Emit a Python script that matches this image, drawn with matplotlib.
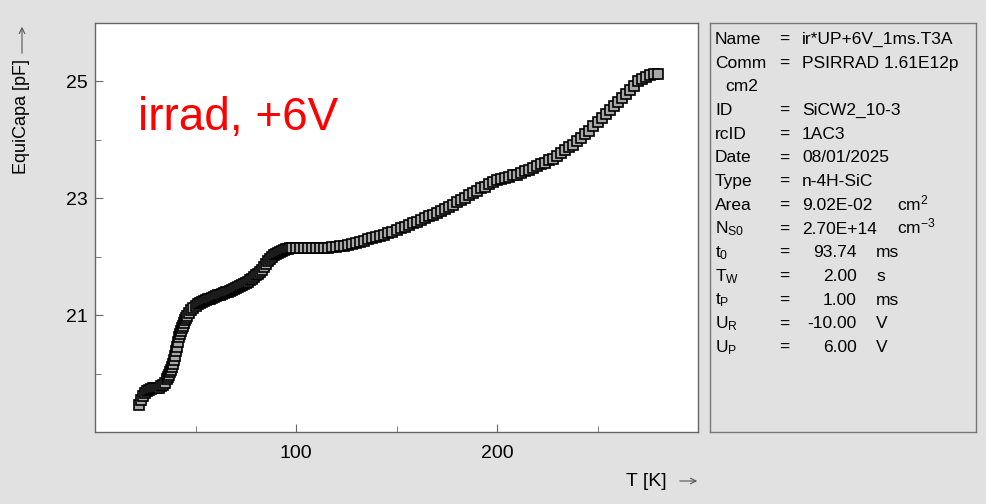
import matplotlib
matplotlib.use("Agg")
import matplotlib.pyplot as plt

plt.rcParams['font.family'] = ['Liberation Sans', 'DejaVu Sans']
plt.rcParams['mathtext.default'] = 'regular'

# data (denser where the curve is steep)
temp_K = [22, 23, 24, 25, 26, 27, 28, 29, 30, 31, 32, 33, 34, 35, 36, 36.5, 37, 37.5,
          38, 38.5, 39, 39.5, 40, 40.5, 41, 41.5, 42, 42.5, 43, 43.5, 44, 44.5, 45, 45.5,
          46, 47, 48, 49, 50, 51, 52, 53, 54, 55, 56, 57, 58, 59, 60, 61, 62, 63, 64, 65,
          66, 67, 68, 69, 70, 71, 72, 73, 74, 75, 76, 77, 78, 79, 80, 81, 82, 83, 84, 85,
          86, 87, 88, 89, 90, 91, 92, 93, 94, 95, 96, 97, 98,
          100, 102, 104, 106, 108, 110, 112, 114, 116, 118, 120, 122, 124, 126, 128, 130,
          132, 134, 136, 138, 140, 142, 144, 146, 148, 150, 152, 154, 156, 158, 160, 162,
          164, 166, 168, 170, 172, 174, 176, 178, 180, 182, 184, 186, 188, 190, 192, 194,
          196, 198, 200, 202, 204, 206, 208, 210, 212, 214, 216, 218, 220, 222, 224, 226,
          228, 230, 232, 234, 236, 238, 240, 242, 244, 246, 248, 250, 252, 254, 256, 258,
          260, 262, 264, 266, 268, 270, 272, 274, 276, 278, 280]
equicapa_pF = [19.47, 19.55, 19.62, 19.67, 19.70, 19.72, 19.74, 19.75, 19.75, 19.75,
               19.76, 19.78, 19.80, 19.84, 19.90, 19.94, 19.98, 20.02,
               20.06, 20.11, 20.17, 20.23, 20.30, 20.38, 20.46, 20.54, 20.62, 20.68,
               20.73, 20.78, 20.82, 20.86, 20.91, 20.95,
               20.98, 21.04, 21.09, 21.13, 21.16, 21.19, 21.21, 21.23, 21.24, 21.26,
               21.27, 21.28, 21.29, 21.31, 21.32, 21.34, 21.35, 21.37, 21.38, 21.39,
               21.40, 21.42, 21.43, 21.45, 21.47, 21.49, 21.50, 21.52, 21.53, 21.55,
               21.57, 21.60, 21.62, 21.65, 21.68, 21.71, 21.74, 21.78, 21.83, 21.87,
               21.92, 21.96, 22.00, 22.03, 22.05, 22.07, 22.08, 22.10, 22.12, 22.13,
               22.14, 22.15, 22.15,
               22.15, 22.15, 22.15, 22.15, 22.15, 22.15, 22.15, 22.15, 22.15, 22.16,
               22.17, 22.18, 22.19, 22.20, 22.21, 22.23, 22.25, 22.27, 22.30, 22.32,
               22.34, 22.36, 22.38, 22.41, 22.43, 22.46, 22.49, 22.51, 22.54, 22.57,
               22.60, 22.63, 22.66, 22.69, 22.72, 22.75, 22.78, 22.82, 22.85, 22.89,
               22.93, 22.97, 23.01, 23.05, 23.09, 23.13, 23.17, 23.20, 23.24, 23.28,
               23.31, 23.33, 23.35, 23.37, 23.39, 23.40, 23.43, 23.46, 23.49, 23.52,
               23.55, 23.58, 23.61, 23.65, 23.68, 23.72, 23.77, 23.82, 23.87, 23.92,
               23.98, 24.04, 24.10, 24.16, 24.23, 24.30, 24.37, 24.44, 24.51, 24.58,
               24.65, 24.72, 24.79, 24.86, 24.93, 25.00, 25.05, 25.08, 25.11, 25.12,
               25.12]

x_major = [100, 200]
x_minor = [50, 150, 250]
y_major = [21, 23, 25]
y_minor = [20, 22, 24]

info_labels = ["Name", "Comm", "", "ID", "rcID", "Date", "Type", "Area",
               "N$_{S0}$", "t$_0$", "T$_W$", "t$_P$", "U$_R$", "U$_P$"]
info_values = ["ir*UP+6V_1ms.T3A", "PSIRRAD 1.61E12p", "cm2", "SiCW2_10-3", "1AC3",
               "08/01/2025", "n-4H-SiC", "9.02E-02", "2.70E+14",
               "93.74", "2.00", "1.00", "-10.00", "6.00"]
info_units = ["", "", "", "", "", "", "", "cm$^2$", "cm$^{-3}$", "ms", "s", "ms", "V", "V"]

W, H = 986, 504
bg = '#e1e1e1'
fig = plt.figure(figsize=(W / 100, H / 100), dpi=100, facecolor=bg)


def fx(px):
    return px / W


def fy(py):
    return 1 - py / H


ax = fig.add_axes([fx(95), fy(432), fx(698) - fx(95), fy(23) - fy(432)])
ax.set_facecolor('white')
ax.plot(temp_K, equicapa_pF, linestyle='none', marker='s', ms=7.5,
        mfc='#a8a8a8', mec='black', mew=1.2)
ax.set_xlim(0, 300)
ax.set_ylim(19, 26)
ax.set_xticks(x_major)
ax.set_xticks(x_minor, minor=True)
ax.set_yticks(y_major)
ax.set_yticks(y_minor, minor=True)
ax.tick_params(which='both', direction='in', color='#666666', labelsize=14,
               top=False, right=False)
ax.tick_params(which='major', length=6)
ax.tick_params(which='minor', length=4)
ax.tick_params(axis='x', pad=9)
ax.tick_params(axis='y', pad=5)
for s in ax.spines.values():
    s.set_color('#666666')
    s.set_linewidth(1.0)

ax.text(fx(138), fy(118), "irrad, +6V", transform=fig.transFigure, color='red',
        fontsize=33, va='center', ha='left')

# axis labels with arrows
fig.text(fx(667), fy(481), "T [K]", fontsize=14, ha='right', va='center')
ax.annotate('', xy=(fx(700), fy(481)), xytext=(fx(677), fy(481)), xycoords='figure fraction',
            arrowprops=dict(arrowstyle='->', color='#555555', lw=0.8))
fig.text(fx(22), fy(174), "EquiCapa [pF]", fontsize=13, rotation=90, ha='center', va='bottom')
ax.annotate('', xy=(fx(22), fy(24)), xytext=(fx(22), fy(56)), xycoords='figure fraction',
            arrowprops=dict(arrowstyle='->', color='#555555', lw=0.8))

# info box
box = fig.add_axes([fx(710), fy(432), fx(976) - fx(710), fy(23) - fy(432)])
box.set_facecolor(bg)
box.set_xticks([])
box.set_yticks([])
for s in box.spines.values():
    s.set_color('#777777')
    s.set_linewidth(1.0)

numeric_rows = {"93.74", "2.00", "1.00", "-10.00", "6.00"}
for i, (lab, val, unit) in enumerate(zip(info_labels, info_values, info_units)):
    yb = fy(44 + 23.7 * i)
    fs = 12.5
    if lab:
        fig.text(fx(715), yb, lab, fontsize=fs, va='baseline')
        fig.text(fx(779), yb, "=", fontsize=fs, va='baseline')
    if lab == "" and val:
        fig.text(fx(725), yb, val, fontsize=fs, va='baseline')
    elif val in numeric_rows:
        fig.text(fx(857), yb, val, fontsize=fs, va='baseline', ha='right')
        fig.text(fx(876), yb, unit, fontsize=fs, va='baseline')
    else:
        fig.text(fx(802), yb, val, fontsize=fs, va='baseline')
        if unit:
            fig.text(fx(897), yb, unit, fontsize=fs, va='baseline')

fig.savefig("out.png", dpi=100, facecolor=bg)
